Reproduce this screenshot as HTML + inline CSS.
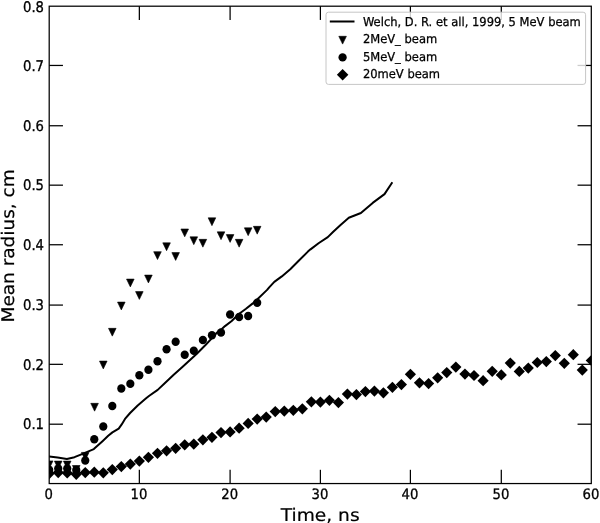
<!DOCTYPE html>
<html lang="en">
<head>
<meta charset="utf-8">
<title>Mean radius vs time</title>
<style>
html,body{margin:0;padding:0;background:#fff;}
body{width:600px;height:523px;overflow:hidden;}
svg{display:block;}
text{font-family:"DejaVu Sans","Liberation Sans",sans-serif;fill:#000;text-rendering:geometricPrecision;}
.tick{font-size:13.2px;stroke:#000;stroke-width:0.3px;}
.lab{font-size:17.4px;stroke:#000;stroke-width:0.2px;}
.leg{font-size:11.53px;stroke:#000;stroke-width:0.25px;}
</style>
</head>
<body>
<svg width="600" height="523" viewBox="0 0 600 523">
<rect width="600" height="523" fill="#fff"/>
<defs><clipPath id="ax"><rect x="49.2" y="6.2" width="542.1" height="477.35"/></clipPath></defs>

<g clip-path="url(#ax)">
<polyline fill="none" stroke="#000" stroke-width="2" stroke-linejoin="round" stroke-linecap="square" points="48,456.3 49.2,456.45 57.6,457.6 66.9,458.9 74.5,457.2 82,454.1 93.8,449.1 102.5,441.2 108.2,435.8 112.4,432.4 118.7,428.6 121.7,424.4 125,418.9 130.1,413 137.7,405.5 146.1,398.3 149.3,395.8 157.7,389.9 165.25,382.7 173.7,374.7 182.1,367.2 190,360 196.8,353.7 205.25,345.25 212,338.1 217,332.6 222.1,328.8 225,326.1 231.7,321 238.5,314.3 246,308.8 252.8,303.4 258.7,297.9 267.1,289.9 269.2,287.35 274.3,281.9 281.8,276.4 290.25,269.25 298.7,260.8 307.9,251.6 310.5,249.35 318.9,243 327.8,237.1 333.25,231.7 340,225.4 348.8,217.8 360.9,213 372.7,202.9 384.5,194.1 391.8,183.15"/>
<g fill="#000">
<polygon stroke="#000" stroke-width="0.6" stroke-linejoin="round" points="45.40,460.90 53.00,460.90 49.20,468.70"/>
<polygon stroke="#000" stroke-width="0.6" stroke-linejoin="round" points="54.42,461.10 62.02,461.10 58.22,468.90"/>
<polygon stroke="#000" stroke-width="0.6" stroke-linejoin="round" points="63.43,461.10 71.03,461.10 67.23,468.90"/>
<polygon stroke="#000" stroke-width="0.6" stroke-linejoin="round" points="72.45,465.50 80.05,465.50 76.25,473.30"/>
<polygon stroke="#000" stroke-width="0.6" stroke-linejoin="round" points="81.46,452.40 89.06,452.40 85.26,460.20"/>
<polygon stroke="#000" stroke-width="0.6" stroke-linejoin="round" points="90.78,403.35 98.38,403.35 94.58,411.15"/>
<polygon stroke="#000" stroke-width="0.6" stroke-linejoin="round" points="99.49,361.10 107.09,361.10 103.29,368.90"/>
<polygon stroke="#000" stroke-width="0.6" stroke-linejoin="round" points="108.50,328.35 116.10,328.35 112.30,336.15"/>
<polygon stroke="#000" stroke-width="0.6" stroke-linejoin="round" points="117.52,302.10 125.12,302.10 121.32,309.90"/>
<polygon stroke="#000" stroke-width="0.6" stroke-linejoin="round" points="126.53,279.10 134.13,279.10 130.33,286.90"/>
<polygon stroke="#000" stroke-width="0.6" stroke-linejoin="round" points="135.55,291.60 143.15,291.60 139.35,299.40"/>
<polygon stroke="#000" stroke-width="0.6" stroke-linejoin="round" points="144.62,275.10 152.22,275.10 148.42,282.90"/>
<polygon stroke="#000" stroke-width="0.6" stroke-linejoin="round" points="153.70,251.70 161.30,251.70 157.50,259.50"/>
<polygon stroke="#000" stroke-width="0.6" stroke-linejoin="round" points="162.77,242.85 170.38,242.85 166.57,250.65"/>
<polygon stroke="#000" stroke-width="0.6" stroke-linejoin="round" points="171.85,252.60 179.45,252.60 175.65,260.40"/>
<polygon stroke="#000" stroke-width="0.6" stroke-linejoin="round" points="180.92,229.00 188.53,229.00 184.72,236.80"/>
<polygon stroke="#000" stroke-width="0.6" stroke-linejoin="round" points="190.00,236.85 197.60,236.85 193.80,244.65"/>
<polygon stroke="#000" stroke-width="0.6" stroke-linejoin="round" points="199.07,239.35 206.68,239.35 202.88,247.15"/>
<polygon stroke="#000" stroke-width="0.6" stroke-linejoin="round" points="208.15,217.85 215.75,217.85 211.95,225.65"/>
<polygon stroke="#000" stroke-width="0.6" stroke-linejoin="round" points="217.22,231.85 224.82,231.85 221.02,239.65"/>
<polygon stroke="#000" stroke-width="0.6" stroke-linejoin="round" points="226.30,234.60 233.90,234.60 230.10,242.40"/>
<polygon stroke="#000" stroke-width="0.6" stroke-linejoin="round" points="235.33,239.35 242.93,239.35 239.13,247.15"/>
<polygon stroke="#000" stroke-width="0.6" stroke-linejoin="round" points="244.36,227.85 251.96,227.85 248.16,235.65"/>
<polygon stroke="#000" stroke-width="0.6" stroke-linejoin="round" points="253.39,226.35 260.99,226.35 257.19,234.15"/>
<ellipse cx="49.20" cy="469.70" rx="4.1" ry="4.25"/>
<ellipse cx="58.22" cy="468.40" rx="4.1" ry="4.25"/>
<ellipse cx="67.23" cy="468.40" rx="4.1" ry="4.25"/>
<ellipse cx="76.25" cy="470.10" rx="4.1" ry="4.25"/>
<ellipse cx="85.26" cy="460.40" rx="4.1" ry="4.25"/>
<ellipse cx="94.28" cy="439.30" rx="4.1" ry="4.25"/>
<ellipse cx="103.29" cy="426.55" rx="4.1" ry="4.25"/>
<ellipse cx="112.30" cy="406.05" rx="4.1" ry="4.25"/>
<ellipse cx="121.32" cy="388.55" rx="4.1" ry="4.25"/>
<ellipse cx="130.33" cy="383.80" rx="4.1" ry="4.25"/>
<ellipse cx="139.35" cy="375.30" rx="4.1" ry="4.25"/>
<ellipse cx="148.42" cy="369.80" rx="4.1" ry="4.25"/>
<ellipse cx="157.50" cy="361.30" rx="4.1" ry="4.25"/>
<ellipse cx="166.57" cy="349.20" rx="4.1" ry="4.25"/>
<ellipse cx="175.65" cy="341.70" rx="4.1" ry="4.25"/>
<ellipse cx="184.72" cy="354.80" rx="4.1" ry="4.25"/>
<ellipse cx="193.80" cy="350.80" rx="4.1" ry="4.25"/>
<ellipse cx="202.88" cy="340.05" rx="4.1" ry="4.25"/>
<ellipse cx="211.95" cy="335.30" rx="4.1" ry="4.25"/>
<ellipse cx="221.02" cy="332.55" rx="4.1" ry="4.25"/>
<ellipse cx="230.10" cy="314.55" rx="4.1" ry="4.25"/>
<ellipse cx="239.13" cy="317.05" rx="4.1" ry="4.25"/>
<ellipse cx="248.16" cy="316.05" rx="4.1" ry="4.25"/>
<ellipse cx="257.19" cy="302.80" rx="4.1" ry="4.25"/>
<polygon points="49.20,468.00 54.80,473.60 49.20,479.20 43.60,473.60"/>
<polygon points="58.22,467.00 63.82,472.60 58.22,478.20 52.62,472.60"/>
<polygon points="67.23,467.40 72.83,473.00 67.23,478.60 61.63,473.00"/>
<polygon points="76.25,468.70 81.84,474.30 76.25,479.90 70.65,474.30"/>
<polygon points="85.26,467.00 90.86,472.60 85.26,478.20 79.66,472.60"/>
<polygon points="94.28,466.60 99.88,472.20 94.28,477.80 88.68,472.20"/>
<polygon points="103.29,467.20 108.89,472.80 103.29,478.40 97.69,472.80"/>
<polygon points="112.30,464.00 117.90,469.60 112.30,475.20 106.70,469.60"/>
<polygon points="121.32,460.95 126.92,466.55 121.32,472.15 115.72,466.55"/>
<polygon points="130.33,458.45 135.93,464.05 130.33,469.65 124.73,464.05"/>
<polygon points="139.35,455.45 144.95,461.05 139.35,466.65 133.75,461.05"/>
<polygon points="148.42,451.70 154.02,457.30 148.42,462.90 142.82,457.30"/>
<polygon points="157.50,447.70 163.10,453.30 157.50,458.90 151.90,453.30"/>
<polygon points="166.57,445.20 172.17,450.80 166.57,456.40 160.97,450.80"/>
<polygon points="175.65,442.70 181.25,448.30 175.65,453.90 170.05,448.30"/>
<polygon points="184.72,439.20 190.32,444.80 184.72,450.40 179.12,444.80"/>
<polygon points="193.80,438.45 199.40,444.05 193.80,449.65 188.20,444.05"/>
<polygon points="202.88,434.20 208.47,439.80 202.88,445.40 197.28,439.80"/>
<polygon points="211.95,431.70 217.55,437.30 211.95,442.90 206.35,437.30"/>
<polygon points="221.02,426.95 226.62,432.55 221.02,438.15 215.42,432.55"/>
<polygon points="230.10,426.30 235.70,431.90 230.10,437.50 224.50,431.90"/>
<polygon points="239.13,422.60 244.73,428.20 239.13,433.80 233.53,428.20"/>
<polygon points="248.16,417.80 253.76,423.40 248.16,429.00 242.56,423.40"/>
<polygon points="257.19,413.45 262.79,419.05 257.19,424.65 251.59,419.05"/>
<polygon points="266.22,411.45 271.82,417.05 266.22,422.65 260.62,417.05"/>
<polygon points="275.25,405.95 280.85,411.55 275.25,417.15 269.65,411.55"/>
<polygon points="284.28,405.45 289.88,411.05 284.28,416.65 278.68,411.05"/>
<polygon points="293.31,404.70 298.91,410.30 293.31,415.90 287.71,410.30"/>
<polygon points="302.34,403.20 307.94,408.80 302.34,414.40 296.74,408.80"/>
<polygon points="311.37,396.20 316.97,401.80 311.37,407.40 305.77,401.80"/>
<polygon points="320.40,396.45 326.00,402.05 320.40,407.65 314.80,402.05"/>
<polygon points="329.40,394.70 335.00,400.30 329.40,405.90 323.80,400.30"/>
<polygon points="338.40,396.95 344.00,402.55 338.40,408.15 332.80,402.55"/>
<polygon points="347.40,388.45 353.00,394.05 347.40,399.65 341.80,394.05"/>
<polygon points="356.40,388.95 362.00,394.55 356.40,400.15 350.80,394.55"/>
<polygon points="365.40,385.95 371.00,391.55 365.40,397.15 359.80,391.55"/>
<polygon points="374.40,385.45 380.00,391.05 374.40,396.65 368.80,391.05"/>
<polygon points="383.40,387.20 389.00,392.80 383.40,398.40 377.80,392.80"/>
<polygon points="392.40,381.70 398.00,387.30 392.40,392.90 386.80,387.30"/>
<polygon points="401.40,378.95 407.00,384.55 401.40,390.15 395.80,384.55"/>
<polygon points="410.40,368.70 416.00,374.30 410.40,379.90 404.80,374.30"/>
<polygon points="419.49,377.20 425.09,382.80 419.49,388.40 413.89,382.80"/>
<polygon points="428.58,377.95 434.18,383.55 428.58,389.15 422.98,383.55"/>
<polygon points="437.67,372.20 443.27,377.80 437.67,383.40 432.07,377.80"/>
<polygon points="446.76,366.95 452.36,372.55 446.76,378.15 441.16,372.55"/>
<polygon points="455.85,361.45 461.45,367.05 455.85,372.65 450.25,367.05"/>
<polygon points="464.94,368.45 470.54,374.05 464.94,379.65 459.34,374.05"/>
<polygon points="474.03,369.90 479.63,375.50 474.03,381.10 468.43,375.50"/>
<polygon points="483.12,375.10 488.72,380.70 483.12,386.30 477.52,380.70"/>
<polygon points="492.21,365.70 497.81,371.30 492.21,376.90 486.61,371.30"/>
<polygon points="501.30,369.30 506.90,374.90 501.30,380.50 495.70,374.90"/>
<polygon points="510.30,357.50 515.90,363.10 510.30,368.70 504.70,363.10"/>
<polygon points="519.30,365.80 524.90,371.40 519.30,377.00 513.70,371.40"/>
<polygon points="528.30,362.50 533.90,368.10 528.30,373.70 522.70,368.10"/>
<polygon points="537.30,356.90 542.90,362.50 537.30,368.10 531.70,362.50"/>
<polygon points="546.30,356.00 551.90,361.60 546.30,367.20 540.70,361.60"/>
<polygon points="555.30,349.95 560.90,355.55 555.30,361.15 549.70,355.55"/>
<polygon points="564.30,357.70 569.90,363.30 564.30,368.90 558.70,363.30"/>
<polygon points="573.30,349.10 578.90,354.70 573.30,360.30 567.70,354.70"/>
<polygon points="582.30,364.50 587.90,370.10 582.30,375.70 576.70,370.10"/>
<polygon points="591.30,354.90 596.90,360.50 591.30,366.10 585.70,360.50"/>
</g></g>
<g stroke="#000" stroke-width="1.25" fill="none">
<line x1="139.35" y1="483.55" x2="139.35" y2="469.8"/>
<line x1="139.35" y1="6.2" x2="139.35" y2="19.95"/>
<line x1="230.10" y1="483.55" x2="230.10" y2="469.8"/>
<line x1="230.10" y1="6.2" x2="230.10" y2="19.95"/>
<line x1="320.40" y1="483.55" x2="320.40" y2="469.8"/>
<line x1="320.40" y1="6.2" x2="320.40" y2="19.95"/>
<line x1="410.40" y1="483.55" x2="410.40" y2="469.8"/>
<line x1="410.40" y1="6.2" x2="410.40" y2="19.95"/>
<line x1="501.30" y1="483.55" x2="501.30" y2="469.8"/>
<line x1="501.30" y1="6.2" x2="501.30" y2="19.95"/>
<line x1="49.2" y1="424.20" x2="62.95" y2="424.20"/>
<line x1="591.3" y1="424.20" x2="577.55" y2="424.20"/>
<line x1="49.2" y1="364.33" x2="62.95" y2="364.33"/>
<line x1="591.3" y1="364.33" x2="577.55" y2="364.33"/>
<line x1="49.2" y1="305.08" x2="62.95" y2="305.08"/>
<line x1="591.3" y1="305.08" x2="577.55" y2="305.08"/>
<line x1="49.2" y1="244.75" x2="62.95" y2="244.75"/>
<line x1="591.3" y1="244.75" x2="577.55" y2="244.75"/>
<line x1="49.2" y1="185.17" x2="62.95" y2="185.17"/>
<line x1="591.3" y1="185.17" x2="577.55" y2="185.17"/>
<line x1="49.2" y1="125.75" x2="62.95" y2="125.75"/>
<line x1="591.3" y1="125.75" x2="577.55" y2="125.75"/>
<line x1="49.2" y1="65.45" x2="62.95" y2="65.45"/>
<line x1="591.3" y1="65.45" x2="577.55" y2="65.45"/>
<rect x="49.2" y="6.2" width="542.1" height="477.35"/>
</g>
<text class="tick" transform="translate(48.80,499.1) scale(1,1.08)" text-anchor="middle">0</text>
<text class="tick" transform="translate(138.95,499.1) scale(1,1.08)" text-anchor="middle">10</text>
<text class="tick" transform="translate(229.70,499.1) scale(1,1.08)" text-anchor="middle">20</text>
<text class="tick" transform="translate(320.00,499.1) scale(1,1.08)" text-anchor="middle">30</text>
<text class="tick" transform="translate(410.00,499.1) scale(1,1.08)" text-anchor="middle">40</text>
<text class="tick" transform="translate(500.90,499.1) scale(1,1.08)" text-anchor="middle">50</text>
<text class="tick" transform="translate(590.90,499.1) scale(1,1.08)" text-anchor="middle">60</text>
<text class="tick" transform="translate(44.0,429.40) scale(1,1.115)" text-anchor="end">0.1</text>
<text class="tick" transform="translate(44.0,369.53) scale(1,1.115)" text-anchor="end">0.2</text>
<text class="tick" transform="translate(44.0,310.28) scale(1,1.115)" text-anchor="end">0.3</text>
<text class="tick" transform="translate(44.0,249.95) scale(1,1.115)" text-anchor="end">0.4</text>
<text class="tick" transform="translate(44.0,190.37) scale(1,1.115)" text-anchor="end">0.5</text>
<text class="tick" transform="translate(44.0,130.95) scale(1,1.115)" text-anchor="end">0.6</text>
<text class="tick" transform="translate(44.0,70.65) scale(1,1.115)" text-anchor="end">0.7</text>
<text class="tick" transform="translate(44.0,11.75) scale(1,1.115)" text-anchor="end">0.8</text>
<text class="lab" transform="translate(320.15,520.6) scale(1.07,1)" text-anchor="middle">Time, ns</text>
<text class="lab" transform="translate(13.8,245.9) rotate(-90) scale(1.063,1)" text-anchor="middle">Mean radius, cm</text>
<rect x="326.0" y="12.2" width="259.6" height="72.2" rx="2.5" ry="2.5" fill="#fff" fill-opacity="0.8" stroke="#c6c6c6" stroke-width="1"/>
<line x1="329.8" y1="21.5" x2="354.5" y2="21.5" stroke="#000" stroke-width="2"/>
<polygon stroke="#000" stroke-width="0.6" stroke-linejoin="round" points="338.80,36.30 346.40,36.30 342.60,44.10"/>
<ellipse cx="342.60" cy="57.4" rx="4.15" ry="4.15"/>
<polygon points="342.60,68.90 348.35,74.65 342.60,80.40 336.85,74.65"/>
<text class="leg" transform="translate(362.9,25.7) scale(1,1.06)">Welch, D. R. et all, 1999, 5 MeV beam</text>
<text class="leg" transform="translate(362.9,43.1) scale(1,1.06)">2MeV_ beam</text>
<text class="leg" transform="translate(362.9,60.5) scale(1,1.06)">5MeV_ beam</text>
<text class="leg" transform="translate(362.9,77.9) scale(1,1.06)">20meV beam</text>
</svg>
</body>
</html>
